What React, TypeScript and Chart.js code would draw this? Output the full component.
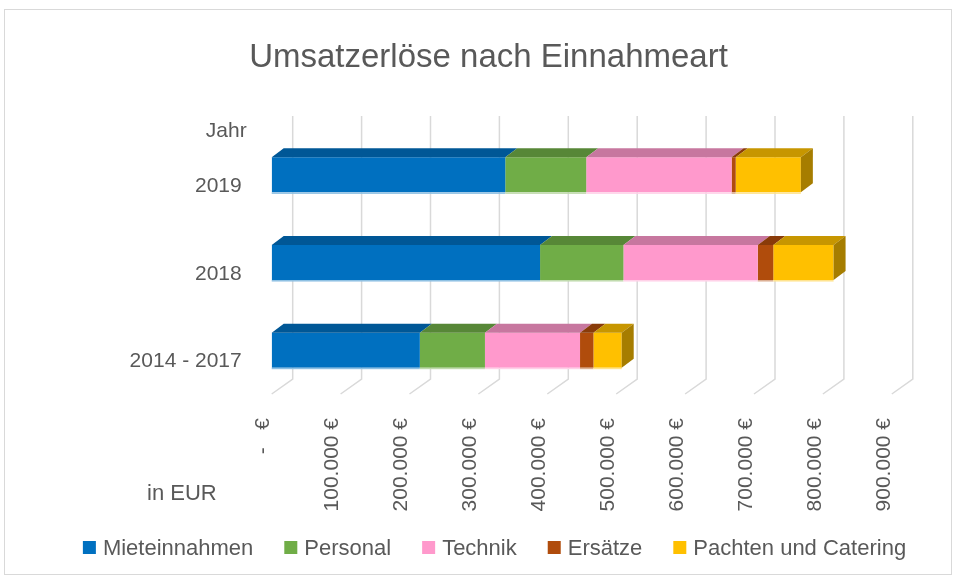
import React, { useEffect, useRef } from 'react';
import { Chart, registerables } from 'chart.js';

Chart.register(...registerables);

// ---------- data ----------
const categories = ['2019', '2018', '2014 - 2017'];
const seriesNames = ['Mieteinnahmen', 'Personal', 'Technik', 'Ersätze', 'Pachten und Catering'];
const mieteinnahmen = [339000, 389500, 215000];
const personal = [117500, 121000, 94500];
const technik = [211000, 195000, 138000];
const ersaetze = [6000, 22500, 19500];
const pachten = [94500, 87500, 41000];
const seriesColors = ['#0070C0', '#70AD47', '#FF99CC', '#B04C0C', '#FFC000'];
const tickValues = [0, 100000, 200000, 300000, 400000, 500000, 600000, 700000, 800000, 900000];
const tickLabels = ['-   €', '100.000 €', '200.000 €', '300.000 €', '400.000 €', '500.000 €', '600.000 €', '700.000 €', '800.000 €', '900.000 €'];
const chartTitle = 'Umsatzerlöse nach Einnahmeart';
const yAxisTitle = 'Jahr';
const xAxisTitle = 'in EUR';

const seriesValues = [mieteinnahmen, personal, technik, ersaetze, pachten];

// ---------- style ----------
const FONT = "'Liberation Sans', Arial, sans-serif";
const TEXT_COLOR = '#595959';
const GRID_COLOR = '#d9d9d9';
const WALL_DX = 21;
const WALL_DY = 15;
const BAR_DX = 12;
const BAR_DY = 9;

function shade(hex: string, f: number): string {
  const n = parseInt(hex.slice(1), 16);
  const r = Math.round(((n >> 16) & 255) * f);
  const g = Math.round(((n >> 8) & 255) * f);
  const b = Math.round((n & 255) * f);
  return `rgb(${r},${g},${b})`;
}
function tint(hex: string, f: number): string {
  const n = parseInt(hex.slice(1), 16);
  const r = (n >> 16) & 255, g = (n >> 8) & 255, b = n & 255;
  return `rgb(${Math.round(r + (255 - r) * f)},${Math.round(g + (255 - g) * f)},${Math.round(b + (255 - b) * f)})`;
}

const threeDPlugin = {
  id: 'threeD',
  beforeDatasetsDraw(chart: any) {
    const { ctx, chartArea } = chart;
    const xs = chart.scales.x;
    ctx.save();
    ctx.strokeStyle = GRID_COLOR;
    ctx.lineWidth = 1.5;
    tickValues.forEach((v) => {
      const xf = xs.getPixelForValue(v);
      const xb = xf + WALL_DX;
      ctx.beginPath();
      ctx.moveTo(xb, chartArea.top - WALL_DY);
      ctx.lineTo(xb, chartArea.bottom - WALL_DY);
      ctx.lineTo(xf, chartArea.bottom);
      ctx.stroke();
    });
    ctx.restore();
  },
  afterDatasetsDraw(chart: any) {
    const { ctx } = chart;
    const nData = categories.length;
    ctx.save();
    for (let i = 0; i < nData; i++) {
      let lastEl: any = null;
      let lastColor = '';
      chart.data.datasets.forEach((ds: any, di: number) => {
        const meta = chart.getDatasetMeta(di);
        const el = meta.data[i];
        if (!el) return;
        const p = el.getProps(['x', 'y', 'base', 'height'], true);
        const x0 = Math.min(p.base, p.x);
        const x1 = Math.max(p.base, p.x);
        const top = p.y - p.height / 2;
        const bottom = p.y + p.height / 2;
        const c = ds.backgroundColor as string;
        // top face
        ctx.fillStyle = shade(c, 0.78);
        ctx.beginPath();
        ctx.moveTo(x0, top);
        ctx.lineTo(x1, top);
        ctx.lineTo(x1 + BAR_DX, top - BAR_DY);
        ctx.lineTo(x0 + BAR_DX, top - BAR_DY);
        ctx.closePath();
        ctx.fill();
        // bottom light edge
        ctx.fillStyle = tint(c, 0.55);
        ctx.fillRect(x0, bottom, x1 - x0, 1.5);
        if (x1 - x0 > 0.1) {
          lastEl = { x1, top, bottom };
          lastColor = c;
        }
      });
      if (lastEl) {
        ctx.fillStyle = shade(lastColor, 0.65);
        ctx.beginPath();
        ctx.moveTo(lastEl.x1, lastEl.top);
        ctx.lineTo(lastEl.x1 + BAR_DX, lastEl.top - BAR_DY);
        ctx.lineTo(lastEl.x1 + BAR_DX, lastEl.bottom - BAR_DY);
        ctx.lineTo(lastEl.x1, lastEl.bottom);
        ctx.closePath();
        ctx.fill();
      }
    }
    ctx.restore();
  },
  afterDraw(chart: any) {
    const { ctx, chartArea } = chart;
    const xs = chart.scales.x;
    const ys = chart.scales.y;
    ctx.save();
    // border
    ctx.strokeStyle = GRID_COLOR;
    ctx.lineWidth = 1;
    ctx.strokeRect(4.5, 9.5, 947, 565);

    ctx.fillStyle = TEXT_COLOR;
    // title
    ctx.font = `33px ${FONT}`;
    ctx.textAlign = 'center';
    ctx.textBaseline = 'alphabetic';
    ctx.fillText(chartTitle, 488.5, 67);

    // category labels
    ctx.font = `21px ${FONT}`;
    ctx.textAlign = 'right';
    categories.forEach((c, i) => {
      ctx.fillText(c, chartArea.left - 30, ys.getPixelForValue(i) + 17);
    });
    // y axis title
    ctx.fillText(yAxisTitle, chartArea.left - 25, chartArea.top + 6);

    // x axis title
    ctx.font = `22px ${FONT}`;
    ctx.textAlign = 'left';
    ctx.fillText(xAxisTitle, 147, 500);

    // tick labels (rotated)
    ctx.font = `21px ${FONT}`;
    tickValues.forEach((v, i) => {
      const xf = xs.getPixelForValue(v);
      ctx.save();
      ctx.translate(xf - 8, chartArea.bottom + 24);
      ctx.rotate(-Math.PI / 2);
      ctx.textAlign = 'right';
      ctx.textBaseline = 'middle';
      ctx.fillText(tickLabels[i], 0, 0);
      ctx.restore();
    });

    // legend
    ctx.font = `22px ${FONT}`;
    ctx.textAlign = 'left';
    ctx.textBaseline = 'alphabetic';
    const box = 13;
    const gapBoxText = 7;
    const gapItems = 31;
    const ds = chart.data.datasets;
    const widths = ds.map((d: any) => ctx.measureText(d.label).width);
    const total = widths.reduce((a: number, w: number) => a + box + gapBoxText + w, 0) + gapItems * (ds.length - 1);
    let lx = 494.5 - total / 2;
    const ly = 555;
    ds.forEach((d: any, i: number) => {
      ctx.fillStyle = d.backgroundColor;
      ctx.fillRect(lx, ly - 14, box, box);
      ctx.fillStyle = TEXT_COLOR;
      ctx.fillText(d.label, lx + box + gapBoxText, ly);
      lx += box + gapBoxText + widths[i] + gapItems;
    });
    ctx.restore();
  },
};

export default function App() {
  const canvasRef = useRef<HTMLCanvasElement | null>(null);

  useEffect(() => {
    if (!canvasRef.current) return;
    const chart = new Chart(canvasRef.current, {
      type: 'bar',
      data: {
        labels: categories,
        datasets: seriesNames.map((name, i) => ({
          label: name,
          data: seriesValues[i],
          backgroundColor: seriesColors[i],
          borderWidth: 0,
          categoryPercentage: 0.8,
          barPercentage: 0.5,
        })),
      },
      options: {
        indexAxis: 'y',
        responsive: false,
        animation: false,
        layout: { padding: { left: 271.7, right: 65.2, top: 131, bottom: 185 } },
        scales: {
          x: { stacked: true, min: 0, max: 900000, display: false },
          y: { stacked: true, display: false },
        },
        plugins: {
          legend: { display: false },
          title: { display: false },
          tooltip: { enabled: false },
        },
      },
      plugins: [threeDPlugin],
    });
    return () => chart.destroy();
  }, []);

  return (
    <div style={{ position: 'fixed', left: 0, top: 0, width: 957, height: 579, background: '#fff' }}>
      <canvas ref={canvasRef} width={957} height={579} style={{ display: 'block' }} />
    </div>
  );
}
